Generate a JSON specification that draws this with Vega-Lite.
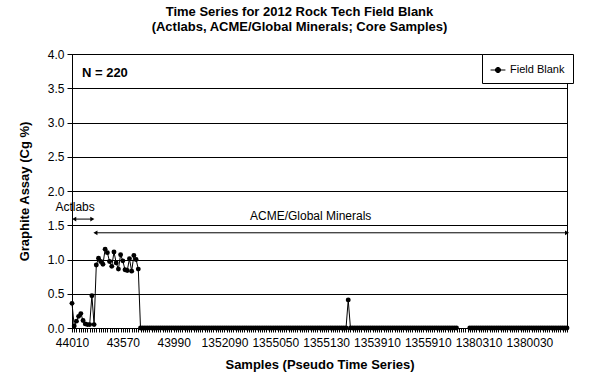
{
"$schema": "https://vega.github.io/schema/vega-lite/v6.json",
"width": 495, "height": 274,
"autosize": {"type": "none"},
"padding": {"left": 72, "top": 54, "right": 33, "bottom": 49},
"background": "white",
"config": {"view": {"stroke": "black", "strokeWidth": 1}, "font": "Liberation Sans"},
"title": {"text": ["Time Series for 2012 Rock Tech Field Blank", "(Actlabs, ACME/Global Minerals; Core Samples)"], "fontSize": 13, "fontWeight": "bold", "font": "Liberation Sans", "anchor": "middle", "dx": -20, "offset": 14, "lineHeight": 15, "color": "black"},
"datasets": {
"main": [
{"i":1,"cg":0.36},{"i":2,"cg":0.03},{"i":3,"cg":0.10},{"i":4,"cg":0.17},{"i":5,"cg":0.21},{"i":6,"cg":0.11},{"i":7,"cg":0.06},{"i":8,"cg":0.05},{"i":9,"cg":0.05},{"i":10,"cg":0.47},
{"i":11,"cg":0.05},{"i":12,"cg":0.92},{"i":13,"cg":1.02},{"i":14,"cg":0.97},{"i":15,"cg":0.93},{"i":16,"cg":1.15},{"i":17,"cg":1.10},{"i":18,"cg":0.97},{"i":19,"cg":0.90},{"i":20,"cg":1.11},
{"i":21,"cg":0.95},{"i":22,"cg":0.86},{"i":23,"cg":1.07},{"i":24,"cg":0.98},{"i":25,"cg":0.85},{"i":26,"cg":0.84},{"i":27,"cg":1.01},{"i":28,"cg":0.83},{"i":29,"cg":1.06},{"i":30,"cg":1.00},
{"i":31,"cg":0.86},{"i":32,"cg":0},{"i":33,"cg":0},{"i":34,"cg":0},{"i":35,"cg":0},{"i":36,"cg":0},{"i":37,"cg":0},{"i":38,"cg":0},{"i":39,"cg":0},{"i":40,"cg":0},
{"i":41,"cg":0},{"i":42,"cg":0},{"i":43,"cg":0},{"i":44,"cg":0},{"i":45,"cg":0},{"i":46,"cg":0},{"i":47,"cg":0},{"i":48,"cg":0},{"i":49,"cg":0},{"i":50,"cg":0},
{"i":51,"cg":0},{"i":52,"cg":0},{"i":53,"cg":0},{"i":54,"cg":0},{"i":55,"cg":0},{"i":56,"cg":0},{"i":57,"cg":0},{"i":58,"cg":0},{"i":59,"cg":0},{"i":60,"cg":0},
{"i":61,"cg":0},{"i":62,"cg":0},{"i":63,"cg":0},{"i":64,"cg":0},{"i":65,"cg":0},{"i":66,"cg":0},{"i":67,"cg":0},{"i":68,"cg":0},{"i":69,"cg":0},{"i":70,"cg":0},
{"i":71,"cg":0},{"i":72,"cg":0},{"i":73,"cg":0},{"i":74,"cg":0},{"i":75,"cg":0},{"i":76,"cg":0},{"i":77,"cg":0},{"i":78,"cg":0},{"i":79,"cg":0},{"i":80,"cg":0},
{"i":81,"cg":0},{"i":82,"cg":0},{"i":83,"cg":0},{"i":84,"cg":0},{"i":85,"cg":0},{"i":86,"cg":0},{"i":87,"cg":0},{"i":88,"cg":0},{"i":89,"cg":0},{"i":90,"cg":0},
{"i":91,"cg":0},{"i":92,"cg":0},{"i":93,"cg":0},{"i":94,"cg":0},{"i":95,"cg":0},{"i":96,"cg":0},{"i":97,"cg":0},{"i":98,"cg":0},{"i":99,"cg":0},{"i":100,"cg":0},
{"i":101,"cg":0},{"i":102,"cg":0},{"i":103,"cg":0},{"i":104,"cg":0},{"i":105,"cg":0},{"i":106,"cg":0},{"i":107,"cg":0},{"i":108,"cg":0},{"i":109,"cg":0},{"i":110,"cg":0},
{"i":111,"cg":0},{"i":112,"cg":0},{"i":113,"cg":0},{"i":114,"cg":0},{"i":115,"cg":0},{"i":116,"cg":0},{"i":117,"cg":0},{"i":118,"cg":0},{"i":119,"cg":0},{"i":120,"cg":0},
{"i":121,"cg":0},{"i":122,"cg":0},{"i":123,"cg":0},{"i":124,"cg":0},{"i":125,"cg":0},{"i":126,"cg":0.41},{"i":127,"cg":0},{"i":128,"cg":0},{"i":129,"cg":0},{"i":130,"cg":0},
{"i":131,"cg":0},{"i":132,"cg":0},{"i":133,"cg":0},{"i":134,"cg":0},{"i":135,"cg":0},{"i":136,"cg":0},{"i":137,"cg":0},{"i":138,"cg":0},{"i":139,"cg":0},{"i":140,"cg":0},
{"i":141,"cg":0},{"i":142,"cg":0},{"i":143,"cg":0},{"i":144,"cg":0},{"i":145,"cg":0},{"i":146,"cg":0},{"i":147,"cg":0},{"i":148,"cg":0},{"i":149,"cg":0},{"i":150,"cg":0},
{"i":151,"cg":0},{"i":152,"cg":0},{"i":153,"cg":0},{"i":154,"cg":0},{"i":155,"cg":0},{"i":156,"cg":0},{"i":157,"cg":0},{"i":158,"cg":0},{"i":159,"cg":0},{"i":160,"cg":0},
{"i":161,"cg":0},{"i":162,"cg":0},{"i":163,"cg":0},{"i":164,"cg":0},{"i":165,"cg":0},{"i":166,"cg":0},{"i":167,"cg":0},{"i":168,"cg":0},{"i":169,"cg":0},{"i":170,"cg":0},
{"i":171,"cg":0},{"i":172,"cg":0},{"i":173,"cg":0},{"i":174,"cg":0},{"i":175,"cg":0},{"i":176,"cg":null},{"i":177,"cg":null},{"i":178,"cg":null},{"i":179,"cg":null},{"i":180,"cg":null},
{"i":181,"cg":0},{"i":182,"cg":0},{"i":183,"cg":0},{"i":184,"cg":0},{"i":185,"cg":0},{"i":186,"cg":0},{"i":187,"cg":0},{"i":188,"cg":0},{"i":189,"cg":0},{"i":190,"cg":0},
{"i":191,"cg":0},{"i":192,"cg":0},{"i":193,"cg":0},{"i":194,"cg":0},{"i":195,"cg":0},{"i":196,"cg":0},{"i":197,"cg":0},{"i":198,"cg":0},{"i":199,"cg":0},{"i":200,"cg":0},
{"i":201,"cg":0},{"i":202,"cg":0},{"i":203,"cg":0},{"i":204,"cg":0},{"i":205,"cg":0},{"i":206,"cg":0},{"i":207,"cg":0},{"i":208,"cg":0},{"i":209,"cg":0},{"i":210,"cg":0},
{"i":211,"cg":0},{"i":212,"cg":0},{"i":213,"cg":0},{"i":214,"cg":0},{"i":215,"cg":0},{"i":216,"cg":0},{"i":217,"cg":0},{"i":218,"cg":0},{"i":219,"cg":0},{"i":220,"cg":0},
{"i":221,"cg":0},{"i":222,"cg":0},{"i":223,"cg":0},{"i":224,"cg":0},{"i":225,"cg":0}
],
"arrows": [
{"name":"Actlabs","i":2,"i2":10.2,"cg":1.59},
{"name":"ACME/Global Minerals","i":11.6,"i2":225,"cg":1.39}
],
"heads": [
{"i":2,"cg":1.59,"dir":"left"},{"i":10.2,"cg":1.59,"dir":"right"},
{"i":11.6,"cg":1.39,"dir":"left"},{"i":225,"cg":1.39,"dir":"right"}
],
"notes": [
{"t":"Actlabs","i":2.4,"cg":1.76,"align":"left"},
{"t":"ACME/Global Minerals","i":109,"cg":1.63,"align":"center"}
],
"badge": [{"t":"N = 220","i":5.5,"cg":3.72}]
},
"encoding": {
"x": {"field": "i", "type": "quantitative", "title": "Samples (Pseudo Time Series)", "scale": {"domain": [1, 225], "nice": false, "zero": false},
"axis": {"titleFontSize": 13, "titleFontWeight": "bold", "titleColor": "black", "titlePadding": 10,
"tickCount": 224, "grid": false, "domainColor": "black", "tickColor": "black", "tickSize": 4,
"labelExpr": "{'1':'44010','24':'43570','47':'43990','70':'1352090','93':'1355050','116':'1355130','139':'1353910','162':'1355910','185':'1380310','208':'1380030'}[datum.value] || ''",
"labelOverlap": false, "labelFlush": false, "labelBound": false, "labelFontSize": 12, "labelColor": "black", "labelPadding": 5}},
"y": {"field": "cg", "type": "quantitative", "title": "Graphite Assay (Cg %)", "scale": {"domain": [0, 4], "nice": false},
"axis": {"titleFontSize": 13, "titleFontWeight": "bold", "titleColor": "black", "titlePadding": 16,
"values": [0, 0.5, 1, 1.5, 2, 2.5, 3, 3.5, 4], "format": ".1f", "grid": true, "gridColor": "black", "gridWidth": 1, "gridOpacity": 1,
"domainColor": "black", "tickColor": "black", "tickSize": 5, "labelFontSize": 12, "labelColor": "black", "labelPadding": 3}}
},
"layer": [
{
"data": {"name": "main"},
"mark": {"type": "line", "color": "black", "strokeWidth": 1},
"encoding": {
"color": {"datum": "Field Blank", "scale": {"range": ["black"]},
"legend": {"orient": "none", "legendX": 410, "legendY": 0, "title": null, "strokeColor": "black", "fillColor": "white", "padding": 8,
"labelFontSize": 11, "labelColor": "black", "labelFont": "Liberation Sans", "labelOffset": 4,
"symbolType": "M-1,0H1M0.35,0A0.35,0.35 0 1 1 -0.35,0A0.35,0.35 0 1 1 0.35,0Z", "symbolSize": 220, "symbolStrokeWidth": 1,
"symbolFillColor": "black", "symbolStrokeColor": "black",
"encode": {"symbols": {"update": {"fill": {"value": "black"}, "stroke": {"value": "black"}}}}}}
}
},
{
"data": {"name": "main"},
"mark": {"type": "point", "filled": true, "shape": "circle", "size": 24, "color": "black", "opacity": 1}
},
{
"data": {"name": "arrows"},
"mark": {"type": "rule", "color": "black", "strokeWidth": 1},
"encoding": {"x2": {"field": "i2"}}
},
{
"data": {"name": "heads"},
"mark": {"type": "point", "filled": true, "size": 22, "color": "black", "opacity": 1},
"encoding": {
"shape": {"field": "dir", "type": "nominal", "scale": {"domain": ["left", "right"], "range": ["triangle-left", "triangle-right"]}, "legend": null}
}
},
{
"data": {"name": "notes"},
"mark": {"type": "text", "fontSize": 12, "color": "black", "baseline": "middle", "font": "Liberation Sans"},
"encoding": {
"text": {"field": "t"},
"align": {"field": "align"}
}
},
{
"data": {"name": "badge"},
"mark": {"type": "text", "fontSize": 13, "fontWeight": "bold", "color": "black", "baseline": "middle", "align": "left", "font": "Liberation Sans"},
"encoding": {
"text": {"field": "t"}
}
}
]
}
